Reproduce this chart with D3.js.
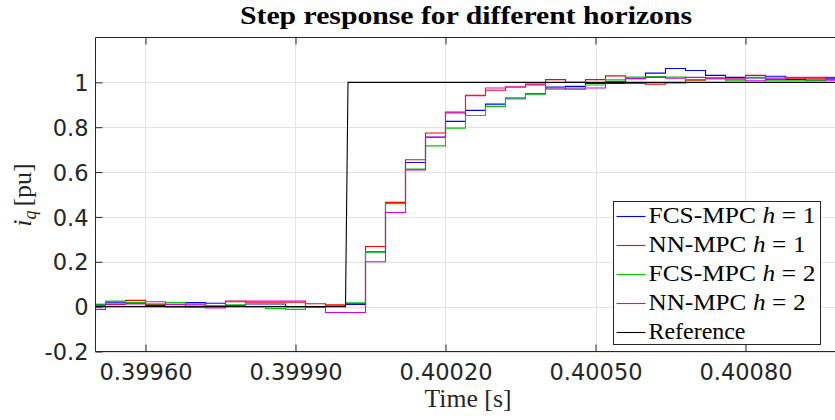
<!DOCTYPE html>
<html>
<head>
<meta charset="utf-8">
<script src="https://cdn.jsdelivr.net/npm/d3@7"></script>
<style>
  html, body { margin: 0; padding: 0; background: #fff; }
  svg { display: block; }
</style>
</head>
<body>
<svg id="chart" width="835" height="420"></svg>
<script>
// Controller sample instants (40 us sampling), start of each held interval
const sampleTimes = [
  0.39948, 0.39952, 0.39956, 0.39960, 0.39964, 0.39968, 0.39972, 0.39976,
  0.39980, 0.39984, 0.39988, 0.39992, 0.39996, 0.40000, 0.40004, 0.40008,
  0.40012, 0.40016, 0.40020, 0.40024, 0.40028, 0.40032, 0.40036, 0.40040,
  0.40044, 0.40048, 0.40052, 0.40056, 0.40060, 0.40064, 0.40068, 0.40072,
  0.40076, 0.40080, 0.40084, 0.40088, 0.40092, 0.40096
];

// i_q held values for each controller
const fcsH1 = [
  0.010, 0.020, 0.015, 0.005, 0.000, 0.018, 0.015, 0.005, 0.012, 0.012, 0.000, 0.000, 0.002, 0.010,
  0.245, 0.462, 0.643, 0.755, 0.826, 0.875, 0.903, 0.930, 0.949, 0.979, 0.982, 0.995, 0.995, 1.016,
  1.041, 1.062, 1.053, 1.031, 1.022, 1.020, 1.027, 1.013, 1.010, 1.019
];
const nnH1 = [
  0.005, 0.010, 0.028, 0.010, 0.000, -0.003, 0.000, 0.025, 0.020, 0.020, 0.020, 0.013, 0.008, 0.014,
  0.268, 0.465, 0.655, 0.774, 0.868, 0.942, 0.965, 0.979, 0.992, 1.012, 1.000, 1.012, 1.029, 0.995,
  0.992, 0.997, 1.010, 1.019, 1.015, 1.031, 1.013, 1.018, 1.016, 1.022
];
const fcsH2 = [
  0.008, 0.025, 0.018, 0.012, 0.018, 0.012, 0.005, 0.008, 0.000, -0.008, -0.012, 0.000, 0.005, 0.017,
  0.243, 0.459, 0.613, 0.717, 0.796, 0.852, 0.893, 0.926, 0.947, 0.970, 0.975, 0.988, 1.011, 1.024,
  1.026, 1.024, 1.012, 1.015, 1.007, 1.022, 1.007, 1.007, 1.007, 1.013
];
const nnH2 = [
  -0.012, 0.012, 0.012, 0.022, 0.010, 0.008, -0.006, 0.022, 0.025, 0.025, 0.025, -0.003, -0.026, -0.026,
  0.200, 0.420, 0.610, 0.756, 0.864, 0.941, 0.975, 0.979, 0.988, 0.975, 0.970, 0.975, 1.004, 1.019,
  1.022, 1.019, 1.022, 1.019, 1.015, 1.007, 1.019, 1.022, 1.022, 1.010
];

// Reference step
const refTimes = [0.3995, 0.40000, 0.400005, 0.401];
const refValues = [0, 0, 1, 1];

const seriesNames = ["FCS-MPC", "NN-MPC", "FCS-MPC", "NN-MPC"];
const seriesHorizons = ["1", "1", "2", "2"];
const seriesValues = [fcsH1, nnH1, fcsH2, nnH2];
const seriesColors = ["#0000ff", "#ff0000", "#00c800", "#dc00dc"];

const xDomain = [0.3995, 0.401];
const yDomain = [-0.2, 1.2];
const xTicks = [0.3996, 0.3999, 0.4002, 0.4005, 0.4008];
const yTicks = [-0.2, 0, 0.2, 0.4, 0.6, 0.8, 1];
const yTickLabels = ["-0.2", "0", "0.2", "0.4", "0.6", "0.8", "1"];

const titleText = "Step response for different horizons";
const xLabelText = "Time [s]";

// ---- layout ----
const svg = d3.select("#chart");
const plotL = 95.5, plotR = 845.5, plotT = 37.5, plotB = 351.5;
const axisColor = "#262626";
const gridColor = "#e3e3e3";
const tickFont = "'DejaVu Sans', sans-serif";
const serifFont = "'Liberation Serif', 'Times New Roman', serif";

const x = d3.scaleLinear().domain(xDomain).range([plotL, plotR]);
const y = d3.scaleLinear().domain(yDomain).range([plotB, plotT]);

svg.append("rect").attr("width", 835).attr("height", 420).attr("fill", "#fff");

svg.append("defs").append("clipPath").attr("id", "plotClip")
  .append("rect").attr("x", plotL).attr("y", plotT)
  .attr("width", plotR - plotL).attr("height", plotB - plotT);

// grid
const grid = svg.append("g");
grid.selectAll("line.gx").data(xTicks).join("line")
  .attr("x1", d => Math.round(x(d)) + 0.5).attr("x2", d => Math.round(x(d)) + 0.5)
  .attr("y1", plotT).attr("y2", plotB)
  .attr("stroke", gridColor).attr("stroke-width", 1);
grid.selectAll("line.gy").data(yTicks).join("line")
  .attr("x1", plotL).attr("x2", plotR)
  .attr("y1", d => Math.round(y(d)) + 0.5).attr("y2", d => Math.round(y(d)) + 0.5)
  .attr("stroke", gridColor).attr("stroke-width", 1);

// data lines
const plot = svg.append("g").attr("clip-path", "url(#plotClip)");
const line = d3.line().x(d => x(d[0])).y(d => y(d[1])).curve(d3.curveStepAfter);

seriesValues.forEach((vals, k) => {
  const pts = sampleTimes.map((t, i) => [t, vals[i]]);
  pts.push([xDomain[1], vals[vals.length - 1]]);
  plot.append("path").datum(pts)
    .attr("d", line)
    .attr("fill", "none")
    .attr("stroke", seriesColors[k])
    .attr("stroke-width", 1.1)
    .attr("stroke-linejoin", "miter");
});

const refLine = d3.line().x(d => x(d[0])).y(d => y(d[1]));
plot.append("path").datum(refTimes.map((t, i) => [t, refValues[i]]))
  .attr("d", refLine)
  .attr("fill", "none")
  .attr("stroke", "#000")
  .attr("stroke-width", 1.1);

// axes
const xAxis = svg.append("g").attr("transform", `translate(0,${plotB})`)
  .call(d3.axisBottom(x).tickValues(xTicks).tickSize(-7).tickPadding(0)
    .tickFormat(d3.format(".5f")));
xAxis.select(".domain").remove();
xAxis.selectAll(".tick line").attr("stroke", axisColor);
xAxis.selectAll(".tick text")
  .attr("y", 28.5).attr("dy", null)
  .attr("fill", axisColor)
  .style("font-family", tickFont).style("font-size", "22.5px");

const xAxisTop = svg.append("g").attr("transform", `translate(0,${plotT})`)
  .call(d3.axisTop(x).tickValues(xTicks).tickSize(-7).tickFormat(""));
xAxisTop.select(".domain").remove();
xAxisTop.selectAll(".tick line").attr("stroke", axisColor);

const yAxis = svg.append("g").attr("transform", `translate(${plotL},0)`)
  .call(d3.axisLeft(y).tickValues(yTicks).tickSize(-7).tickPadding(8)
    .tickFormat((d, i) => yTickLabels[i]));
yAxis.select(".domain").remove();
yAxis.selectAll(".tick line").attr("stroke", axisColor);
yAxis.selectAll(".tick text")
  .attr("x", -7).attr("dy", "0.36em")
  .attr("fill", axisColor)
  .style("font-family", tickFont).style("font-size", "22.5px");

// axes frame
svg.append("path")
  .attr("d", `M${plotR},${plotT}H${plotL}V${plotB}H${plotR}`)
  .attr("fill", "none").attr("stroke", axisColor).attr("stroke-width", 1);

// title
svg.append("text")
  .attr("x", 466).attr("y", 24)
  .attr("text-anchor", "middle")
  .attr("fill", "#000")
  .attr("textLength", 452).attr("lengthAdjust", "spacingAndGlyphs")
  .style("font-family", serifFont).style("font-weight", "bold").style("font-size", "26px")
  .text(titleText);

// x label
svg.append("text")
  .attr("x", 468).attr("y", 407)
  .attr("text-anchor", "middle")
  .attr("fill", axisColor)
  .attr("textLength", 87).attr("lengthAdjust", "spacingAndGlyphs")
  .style("font-family", serifFont).style("font-size", "25px")
  .text(xLabelText);

// y label: i_q [pu]
const yLab = svg.append("text")
  .attr("transform", "translate(31,195) rotate(-90)")
  .attr("text-anchor", "middle")
  .attr("fill", axisColor)
  .style("font-family", serifFont).style("font-size", "26px");
yLab.append("tspan").style("font-style", "italic").text("i");
yLab.append("tspan").style("font-style", "italic").style("font-size", "18px")
  .attr("dy", 5).text("q");
yLab.append("tspan").attr("dy", -5).attr("dx", 4).text("[pu]");

// legend
const legX = 613.5, legY = 201.5, legW = 207, legH = 143, rowH = 29;
const legend = svg.append("g");
legend.append("rect")
  .attr("x", legX).attr("y", legY).attr("width", legW).attr("height", legH)
  .attr("fill", "#fff").attr("stroke", axisColor).attr("stroke-width", 1);

const legendItems = seriesNames.map((n, k) => ({ name: n, h: seriesHorizons[k], color: seriesColors[k] }));
legendItems.push({ name: "Reference", h: null, color: "#000" });

legendItems.forEach((it, k) => {
  const cy = legY + 15 + k * rowH;
  legend.append("line")
    .attr("x1", legX + 3).attr("x2", legX + 32)
    .attr("y1", cy).attr("y2", cy)
    .attr("stroke", it.color).attr("stroke-width", 1.1);
  const t = legend.append("text")
    .attr("x", legX + 35).attr("y", cy + 6.5)
    .attr("fill", "#000")
    .style("font-family", serifFont).style("font-size", "23px");
  if (it.h === null) {
    t.text(it.name);
    t.attr("textLength", 97).attr("lengthAdjust", "spacingAndGlyphs");
  } else {
    t.append("tspan").text(it.name);
    t.append("tspan").attr("dx", 6).style("font-style", "italic").text("h");
    t.append("tspan").attr("dx", 6).text("=");
    t.append("tspan").attr("dx", 6).text(it.h);
    const w = it.name === "FCS-MPC" ? 167 : 157;
    t.attr("textLength", w).attr("lengthAdjust", "spacingAndGlyphs");
  }
});
</script>
</body>
</html>
